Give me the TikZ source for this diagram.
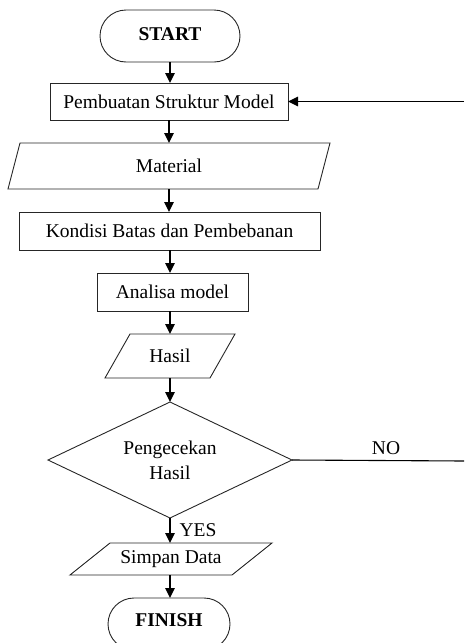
\documentclass[tikz,border=0pt]{standalone}
\usepackage{fontspec}
\setmainfont{Liberation Serif}
\usetikzlibrary{arrows.meta,shapes.geometric}
\begin{document}
\begin{tikzpicture}[x=1pt,y=-1pt,
  every node/.style={font=\fontsize{19.5}{25}\selectfont, inner sep=0pt, outer sep=0pt},
  box/.style={draw=black!85, line width=0.9pt, rectangle},
  term/.style={draw=black!85, line width=0.9pt, rectangle, rounded corners=26pt,
    minimum height=52pt, font=\fontsize{19.5}{25}\selectfont\bfseries},
  shp/.style={draw=black!85, line width=0.9pt},
  arr/.style={line width=1.3pt, -{Triangle[length=10pt,width=9.5pt]}},
  ln/.style={line width=1.1pt}
  ]
\path[use as bounding box] (0,0) rectangle (464,643);
\begin{scope}
\clip (0,0) rectangle (464,643);
\node[term, minimum width=140pt, text depth=4pt] (start) at (170,36) {START};
\node[box, minimum width=238pt, minimum height=37pt] (pemb) at (169,101.5) {Pembuatan Struktur Model};
\node[minimum width=310pt, minimum height=46pt] (mat) at (169,166) {Material};
\draw[shp] ([xshift=6pt]mat.north west) -- ([xshift=6pt]mat.north east) -- ([xshift=-6pt]mat.south east) -- ([xshift=-6pt]mat.south west) -- cycle;
\node[box, minimum width=301pt, minimum height=38pt] (kond) at (169.5,231) {Kondisi Batas dan Pembebanan};
\node[box, minimum width=151pt, minimum height=38pt] (anal) at (172.5,292) {Analisa model};
\node[minimum width=105pt, minimum height=44pt] (has) at (170,356) {Hasil};
\draw[shp] ([xshift=12.5pt]has.north west) -- ([xshift=12.5pt]has.north east) -- ([xshift=-12.5pt]has.south east) -- ([xshift=-12.5pt]has.south west) -- cycle;
\node[diamond, shp, aspect=2.1, minimum width=244pt, minimum height=116pt, align=center] (dia) at (170,460) {Pengecekan\\Hasil};
\node[minimum width=162pt, minimum height=32pt] (simp) at (171,559) {Simpan Data};
\draw[shp] ([xshift=20pt]simp.north west) -- ([xshift=20pt]simp.north east) -- ([xshift=-20pt]simp.south east) -- ([xshift=-20pt]simp.south west) -- cycle;
\node[term, minimum width=122pt, text depth=8pt] (fin) at (169,624) {FINISH};

\node (no) at (386,448) {NO};
\node (yes) at (198,530) {YES};
\coordinate (rtop) at (464,101.5);
\coordinate (rno) at (464,461);

\draw[arr] (start.south) -- (start.south |- pemb.north);
\draw[arr] (pemb.south) -- (pemb.south |- mat.north);
\draw[arr] (mat.south) -- (mat.south |- kond.north);
\draw[arr] ([xshift=0.5pt]kond.south) -- ([xshift=0.5pt]kond.south |- anal.north);
\draw[arr] ([xshift=-2.5pt]anal.south) -- ([xshift=-2.5pt]anal.south |- has.north);
\draw[arr] (has.south) -- (dia.north);
\draw[arr] (dia.south) -- (dia.south |- simp.north);
\draw[arr] ([xshift=-1pt]simp.south) -- ([xshift=-1pt]simp.south |- fin.north);
\draw[ln] (dia.east) -- (rno);
\draw[arr] (rtop) -- (pemb.east);
\end{scope}
\end{tikzpicture}
\end{document}
